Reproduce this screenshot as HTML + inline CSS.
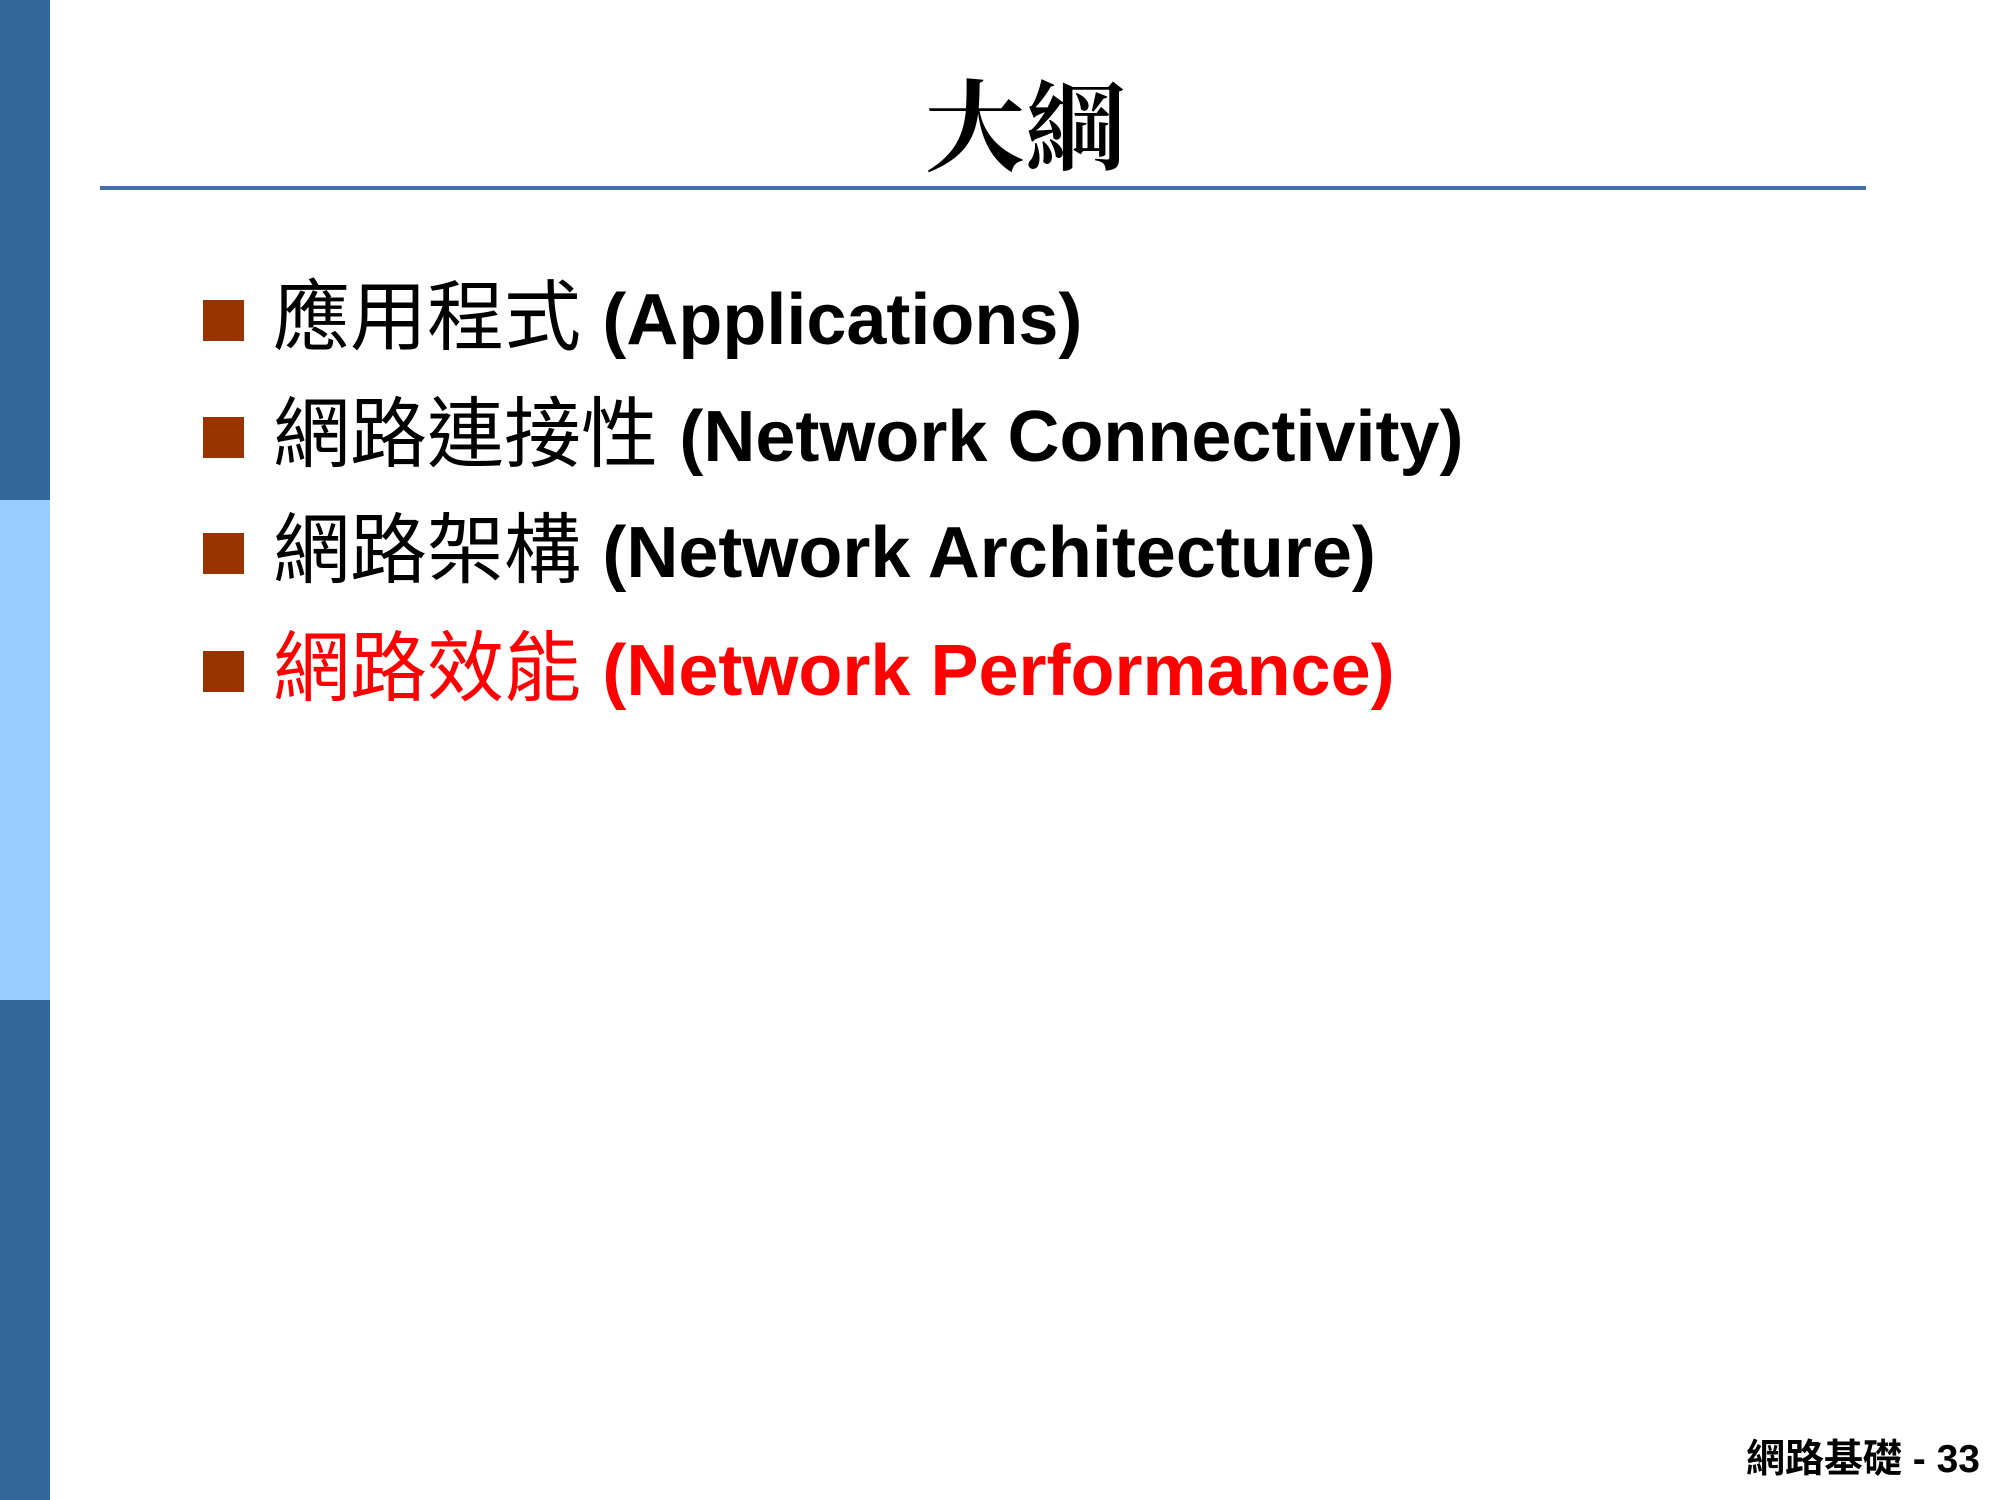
<!DOCTYPE html>
<html><head><meta charset="utf-8"><style>
body{margin:0;width:2000px;height:1500px;background:#fff;position:relative;overflow:hidden;font-family:"Liberation Sans","Noto Sans CJK TC",sans-serif}
.bar{position:absolute;left:0;width:50px}
.t{position:absolute;left:0;width:2050px;text-align:center;top:60px;font-size:100px;line-height:120px;font-weight:bold;font-family:"Noto Serif CJK SC","Noto Sans CJK TC",serif;color:#000}
.line{position:absolute;left:100px;top:186px;width:1778px;height:4px;background:#3f6fa3}
.sq{position:absolute;left:203px;width:41px;height:41px;background:#993300}
.row{position:absolute;left:273px;font-size:77px;line-height:90px;white-space:nowrap;color:#000}
.row b{font-family:"Liberation Sans",sans-serif;font-weight:bold;font-size:72px}
.row span{font-family:"Noto Sans CJK TC",sans-serif}
.f{position:absolute;right:20px;top:1428px;font-size:39px;font-weight:bold;color:#000}
</style></head><body>
<div class="bar" style="top:0;height:500px;background:#336699"></div>
<div class="bar" style="top:500px;height:500px;background:#99ccff"></div>
<div class="bar" style="top:1000px;height:500px;background:#336699"></div>
<div class="t">大綱</div>
<div class="line" style="width:1766px"></div>
<div class="sq" style="top:300px"></div>
<div class="row" style="top:267px"><span>應用程式</span> <b>(Applications)</b></div>
<div class="sq" style="top:417px"></div>
<div class="row" style="top:384px"><span>網路連接性</span> <b>(Network Connectivity)</b></div>
<div class="sq" style="top:533px"></div>
<div class="row" style="top:500px"><span>網路架構</span> <b>(Network Architecture)</b></div>
<div class="sq" style="top:651px"></div>
<div class="row" style="top:618px;color:#ff0000"><span>網路效能</span> <b>(Network Performance)</b></div>
<div class="f">網路基礎 - 33</div>
</body></html>
